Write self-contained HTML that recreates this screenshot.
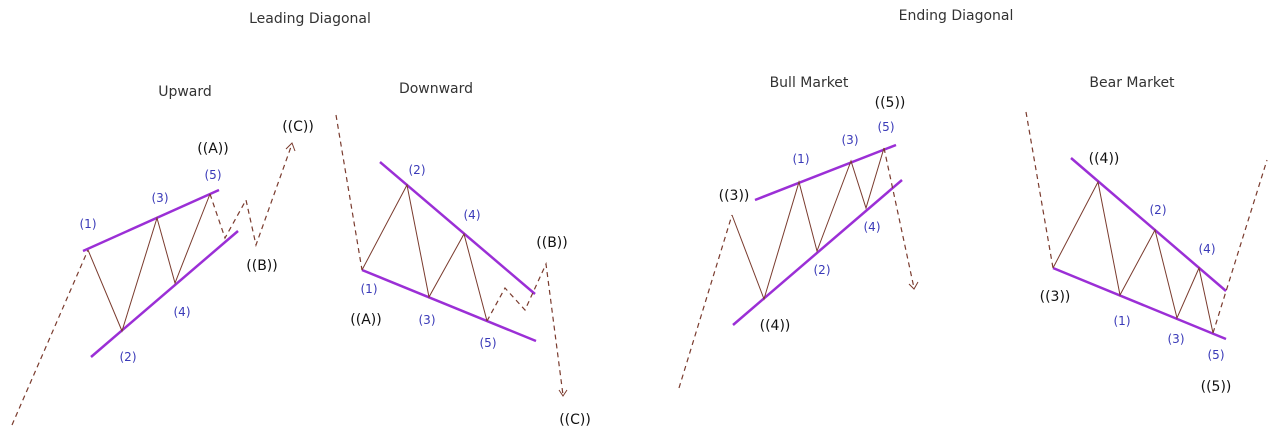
<!DOCTYPE html>
<html><head><meta charset="utf-8"><style>
html,body{margin:0;padding:0;background:#fff;}
svg{display:block;}
text{font-family:"DejaVu Sans","Liberation Sans",sans-serif;}
.t{font-size:14px;fill:#333;text-anchor:middle;}
.n{font-size:12px;fill:#3a3ab8;text-anchor:middle;}
.b{font-size:14px;fill:#111;text-anchor:middle;}
.p{stroke:#9b2fd6;stroke-width:2.5;fill:none;}
.z{stroke:#7a3b2e;stroke-width:1;fill:none;}
.d{stroke:#7a3b2e;stroke-width:1.2;fill:none;stroke-dasharray:5,4;}
</style></head><body>
<svg width="1280" height="435" viewBox="0 0 1280 435" xmlns="http://www.w3.org/2000/svg">
<text class="t" x="310" y="23">Leading Diagonal</text>
<text class="t" x="956" y="20">Ending Diagonal</text>
<text class="t" x="185" y="96">Upward</text>
<text class="t" x="436" y="93">Downward</text>
<text class="t" x="809" y="87">Bull Market</text>
<text class="t" x="1132" y="87">Bear Market</text>

<!-- Upward -->
<polyline class="d" points="12,425 88,250"/>
<line class="p" x1="83" y1="251" x2="219" y2="190"/>
<line class="p" x1="91" y1="357" x2="238" y2="231"/>
<polyline class="z" points="88,250 122,331 157,218 175,283 210,194"/>
<polyline class="d" points="210,194 225,238 246,200 256,245 292,144"/>
<polyline class="z" points="286,149 292,143 295,151"/>
<text class="n" x="88" y="228">(1)</text>
<text class="n" x="128" y="361">(2)</text>
<text class="n" x="160" y="202">(3)</text>
<text class="n" x="182" y="316">(4)</text>
<text class="n" x="213" y="179">(5)</text>
<text class="b" x="213" y="153">((A))</text>
<text class="b" x="262" y="270">((B))</text>
<text class="b" x="298" y="131">((C))</text>

<!-- Downward -->
<polyline class="d" points="336,115 362,270"/>
<line class="p" x1="380" y1="162" x2="535" y2="294"/>
<line class="p" x1="362" y1="270" x2="536" y2="341"/>
<polyline class="z" points="362,270 407,185 429,297 464,234 487,321"/>
<polyline class="d" points="487,321 505,288 525,310 546,264 563,395"/>
<polyline class="z" points="559,390 563,396 567,390"/>
<text class="n" x="417" y="174">(2)</text>
<text class="n" x="472" y="219">(4)</text>
<text class="b" x="552" y="247">((B))</text>
<text class="n" x="369" y="293">(1)</text>
<text class="b" x="366" y="324">((A))</text>
<text class="n" x="427" y="324">(3)</text>
<text class="n" x="488" y="347">(5)</text>
<text class="b" x="575" y="424">((C))</text>

<!-- Bull Market -->
<polyline class="d" points="679,388 732,215"/>
<line class="p" x1="755" y1="200" x2="896" y2="145"/>
<line class="p" x1="733" y1="325" x2="902" y2="180"/>
<polyline class="z" points="732,215 764,299 799,182 817,251 851,161 866,208 884,148"/>
<polyline class="d" points="884,148 914,288"/>
<polyline class="z" points="909,284 914,289 918,282"/>
<text class="b" x="734" y="200">((3))</text>
<text class="n" x="801" y="163">(1)</text>
<text class="n" x="850" y="144">(3)</text>
<text class="n" x="886" y="131">(5)</text>
<text class="b" x="890" y="107">((5))</text>
<text class="n" x="872" y="231">(4)</text>
<text class="n" x="822" y="274">(2)</text>
<text class="b" x="775" y="330">((4))</text>

<!-- Bear Market -->
<polyline class="d" points="1026,112 1053,268"/>
<line class="p" x1="1071" y1="158" x2="1226" y2="291"/>
<line class="p" x1="1053" y1="268" x2="1226" y2="339"/>
<polyline class="z" points="1053,268 1098,182 1120,295 1155,230 1177,318 1199,268 1213,333"/>
<polyline class="d" points="1213,333 1267,160"/>
<text class="b" x="1104" y="163">((4))</text>
<text class="n" x="1158" y="214">(2)</text>
<text class="n" x="1207" y="253">(4)</text>
<text class="b" x="1055" y="301">((3))</text>
<text class="n" x="1122" y="325">(1)</text>
<text class="n" x="1176" y="343">(3)</text>
<text class="n" x="1216" y="359">(5)</text>
<text class="b" x="1216" y="391">((5))</text>
</svg>
</body></html>
